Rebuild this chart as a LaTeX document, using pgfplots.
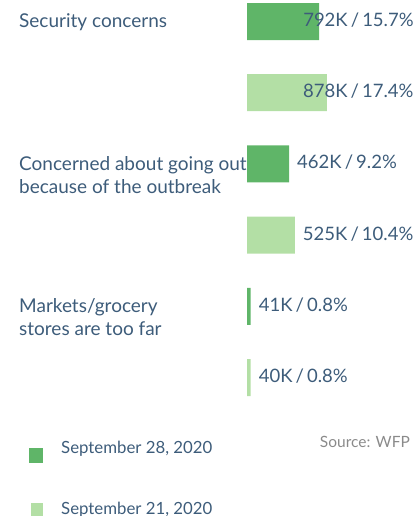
\documentclass[border=0pt]{standalone}
\usepackage{pgfplots}
\pgfplotsset{compat=1.18}
\usepackage{pgfplotstable}
\usepackage{fontspec}
\setmainfont{Lato}

\definecolor{dk}{HTML}{5FB568}
\definecolor{lt}{HTML}{B3DFA5}
\definecolor{txt}{HTML}{3D5C7A}
\definecolor{src}{HTML}{8A8A8A}

% y = slot (0 top), x = thousands, sh = label shift (pt)
\pgfplotstableread{
y x sh lab
0 792 -16 {792K\,/\,15.7\%}
2 462 8 {462K\,/\,9.2\%}
4 41 8 {41K\,/\,0.8\%}
}\septwentyeight
\pgfplotstableread{
y x sh lab
1 878 -24 {878K\,/\,17.4\%}
3 525 8 {525K\,/\,10.4\%}
5 40 8 {40K\,/\,0.8\%}
}\septwentyone

\begin{document}
\begin{tikzpicture}
\path[use as bounding box] (0,0) rectangle (419pt,-516pt);
\begin{axis}[
    at={(247pt,14.1pt)}, anchor=north west,
    x=0.091pt, y=71.2pt, y dir=reverse,
    xmin=0, xmax=1800, ymin=-0.5, ymax=5.5,
    axis line style={draw=none}, major tick length=0pt,
    xtick=\empty,
    ytick={0,2,4},
    yticklabels={{\strut Security concerns},{\strut Concerned about going out\\because of the outbreak},{\strut Markets/grocery\\stores are too far}},
    yticklabel style={anchor=north west, align=left, inner sep=0pt, xshift=-228pt, yshift=10pt,
        font=\fontsize{19}{23}\selectfont, text=txt},
    clip=false,
    xbar, bar width=37pt, bar shift=0pt,
    nodes near coords, point meta=explicit symbolic,
    visualization depends on={\thisrow{sh}\as\sh},
    every node near coord/.append style={anchor=west, inner sep=0pt, xshift=\sh pt, yshift=1.5pt,
        font=\fontsize{18.5}{23}\selectfont, text=txt},
    legend style={at={(-1.331,-0.065)}, anchor=north west, draw=none, fill=none,
        inner sep=0pt, row sep=40pt, font=\fontsize{16.8}{18}\selectfont, text=txt,
        nodes={inner sep=0pt},
        /tikz/every odd column/.append style={column sep=18pt}},
    legend cell align=left,
]
\addplot[fill=dk, draw=none,
    legend image code/.code={\path[fill=dk] (0pt,-14.5pt) rectangle (14pt,0.5pt);}]
    table[x=x, y=y, meta=lab] {\septwentyeight};
\addplot[fill=lt, draw=none,
    legend image code/.code={\path[fill=lt] (2pt,-6pt) rectangle (14pt,7pt);}]
    table[x=x, y=y, meta=lab] {\septwentyone};
\legend{{September 28, 2020}, {September 21, 2020}}
\end{axis}
\node[anchor=base east, inner sep=0pt, text=src, font=\fontsize{15.5}{18}\selectfont]
    at (410pt,-447pt) {Source: WFP};
\end{tikzpicture}
\end{document}
